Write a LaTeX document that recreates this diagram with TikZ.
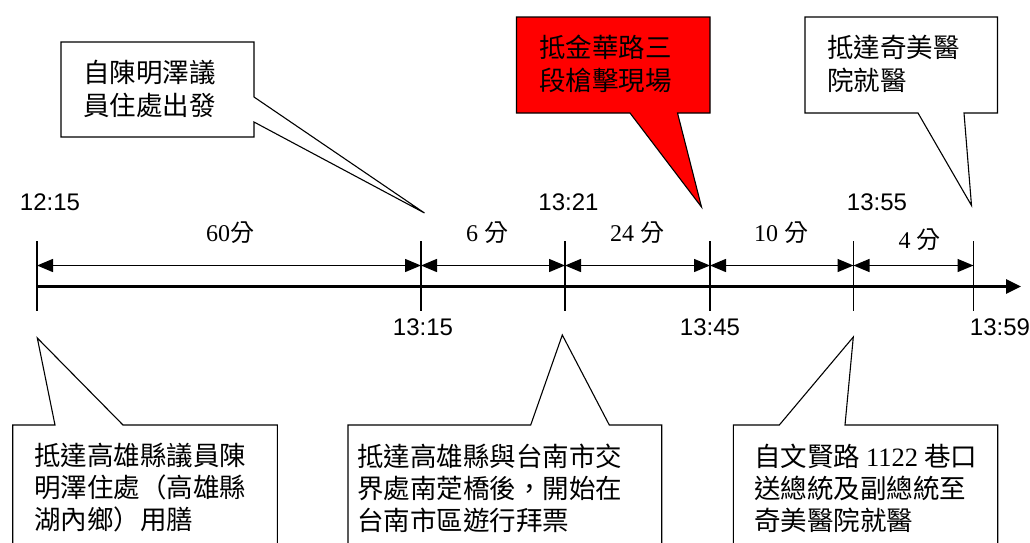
\documentclass[tikz,border=0pt]{standalone}
\usepackage{fontspec}
\setmainfont{Liberation Serif}
\setsansfont{Liberation Sans}
\newfontfamily\cjkfont{Noto Sans CJK TC}
\usetikzlibrary{arrows.meta}
\newcommand{\fen}{{\cjkfont 分}}

\begin{document}
\begin{tikzpicture}[x=1pt,y=-1pt]
      \tikzset{box/.style = {draw,line width=1.1pt,line join=miter,fill=white}}
      \tikzset{note/.style = {anchor=west,inner sep=0,align=left,font=\cjkfont\fontsize{26.5}{33}\selectfont}}
      \tikzset{time/.style = {inner sep=0,font=\sffamily\fontsize{24}{24}\selectfont}}
      \tikzset{span/.style = {inner sep=0,font=\rmfamily\fontsize{24}{24}\selectfont}}
      \tikzset{edge/.style = {line width=1.4pt,> = {Triangle[length=16pt,width=13pt]}}}
      \tikzset{axis/.style = {line width=3pt,> = {Triangle[length=15pt,width=14pt]}}}
      \tikzset{tick/.style = {line width=1.2pt}}
      \useasboundingbox (0,0) rectangle (1030,542);
      \clip (0,0) rectangle (1030,542);

      \coordinate (a0) at (37, 286.5);
      \coordinate (a1) at (1021, 286.5);
      \coordinate (d0) at (37, 265.5);
      \coordinate (d1) at (421, 265.5);
      \coordinate (d2) at (565, 265.5);
      \coordinate (d3) at (710, 265.5);
      \coordinate (d4) at (853.5, 265.5);
      \coordinate (d5) at (973.5, 265.5);

      \draw[tick] ([yshift=24.5pt]d0) -- ([yshift=-45.5pt]d0);
      \draw[tick] ([yshift=24.5pt]d1) -- ([yshift=-45.5pt]d1);
      \draw[tick] ([yshift=24.5pt]d2) -- ([yshift=-45.5pt]d2);
      \draw[tick] ([yshift=24.5pt]d3) -- ([yshift=-45.5pt]d3);
      \draw[tick] ([yshift=24.5pt]d4) -- ([yshift=-45.5pt]d4);
      \draw[tick] ([yshift=24.5pt]d5) -- ([yshift=-45.5pt]d5);

      \draw[axis,->] (a0) -- (a1);
      \draw[edge,<->] (d0) -- (d1);
      \draw[edge,<->] (d1) -- (d2);
      \draw[edge,<->] (d2) -- (d3);
      \draw[edge,<->] (d3) -- (d4);
      \draw[edge,<->] (d4) -- (d5);

      \node[span] (s1) at (230, 233) {60\fen};
      \node[span] (s2) at (487, 233) {6 \fen};
      \node[span] (s3) at (637, 233) {24 \fen};
      \node[span] (s4) at (781, 233) {10 \fen};
      \node[span] (s5) at (919.5, 240) {4 \fen};

      \node[time] (t1) at (50, 202) {12:15};
      \node[time] (t2) at (568.5, 202) {13:21};
      \node[time] (t3) at (877, 202) {13:55};
      \node[time] (t4) at (423, 327) {13:15};
      \node[time] (t5) at (710, 327) {13:45};
      \node[time] (t6) at (1000, 327) {13:59};

      \coordinate (pa) at (424.5, 213);
      \coordinate (pb) at (701.5, 207);
      \coordinate (pc) at (971.5, 205.5);
      \coordinate (pd) at (37.3, 338);
      \coordinate (pe) at (562.3, 335);
      \coordinate (pf) at (853.3, 337);

      \draw[box] (61, 42) -- (254, 42) -- (254, 97) -- (pa) -- (254, 122) -- (254, 137) -- (61, 137) -- cycle;
      \draw[box,fill=red] (516.5, 17) -- (710, 17) -- (710, 113) -- (677.5, 113) -- (pb) -- (630, 113) -- (516.5, 113) -- cycle;
      \draw[box] (805, 17) -- (997.5, 17) -- (997.5, 113) -- (964, 113) -- (pc) -- (918, 113) -- (805, 113) -- cycle;
      \draw[box] (12.7, 425) -- (55, 425) -- (pd) -- (123, 425) -- (277.3, 425) -- (277.3, 560) -- (12.7, 560) -- cycle;
      \draw[box] (348, 425) -- (530.7, 425) -- (pe) -- (609.3, 425) -- (661.7, 425) -- (661.7, 560) -- (348, 560) -- cycle;
      \draw[box] (733.3, 425) -- (779.3, 425) -- (pf) -- (845, 425) -- (997.7, 425) -- (997.7, 560) -- (733.3, 560) -- cycle;

      \node[note] (n1) at (83, 88.5) {自陳明澤議\\員住處出發};
      \node[note] (n2) at (539, 63.5) {抵金華路三\\段槍擊現場};
      \node[note] (n3) at (827, 63.5) {抵達奇美醫\\院就醫};
      \node[note,font=\cjkfont\fontsize{26.5}{32}\selectfont] (n4) at (34, 488) {抵達高雄縣議員陳\\明澤住處（高雄縣\\湖內鄉）用膳};
      \node[note,font=\cjkfont\fontsize{26.5}{32}\selectfont] (n5) at (357, 488) {抵達高雄縣與台南市交\\界處南萣橋後，開始在\\台南市區遊行拜票};
      \node[note,font=\cjkfont\fontsize{26.5}{32}\selectfont] (n6) at (754, 488) {自文賢路 {\rmfamily 1122} 巷口\\送總統及副總統至\\奇美醫院就醫};
    \end{tikzpicture}
\end{document}
